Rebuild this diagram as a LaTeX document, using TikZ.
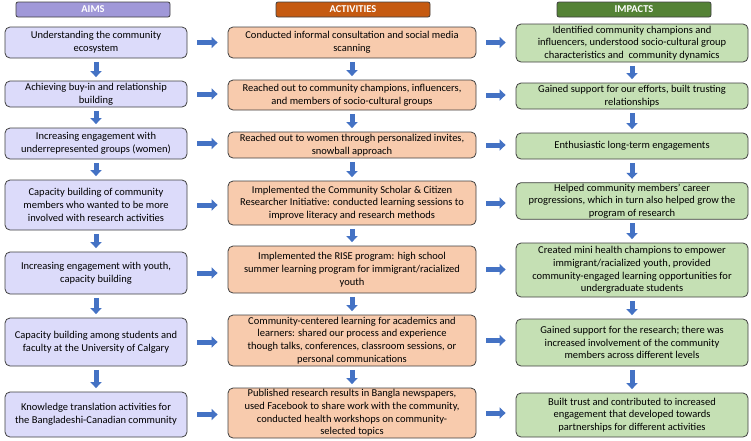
\documentclass[tikz,border=0pt]{standalone}
\usepackage{fontspec}
\setmainfont{Carlito}
\usetikzlibrary{arrows.meta}

\definecolor{aimhead}{HTML}{A098D8}
\definecolor{acthead}{HTML}{C55A11}
\definecolor{imphead}{HTML}{548235}
\definecolor{aimfill}{HTML}{DCDBFA}
\definecolor{actfill}{HTML}{F8CBAD}
\definecolor{impfill}{HTML}{C5E0B4}
\definecolor{boxline}{HTML}{404040}
\definecolor{arrowblue}{HTML}{4472C4}

\begin{document}
\begin{tikzpicture}[x=1pt, y=-1pt,
    txt/.style={font=\fontsize{10.5}{12.7}\selectfont, align=center, inner sep=1pt},
    card/.style={txt, draw=boxline, line width=0.8pt, rounded corners=5pt},
    aimbox/.style={card, fill=aimfill, minimum width=182pt},
    actbox/.style={card, fill=actfill, minimum width=248pt},
    impbox/.style={card, fill=impfill, minimum width=232pt},
    headbox/.style={draw=boxline, line width=0.8pt, rounded corners=2pt, text=white,
        font=\fontsize{10.5}{12}\selectfont\bfseries, minimum width=154pt, minimum height=15pt, inner sep=0pt},
    fatarrow/.style={draw=arrowblue, line width=5pt, -{Triangle[width=11pt,length=6pt]}}]

    % Fix the page size
    \useasboundingbox (0,0) rectangle (751,440);

    % Column headers
    \node[headbox, fill=aimhead] (hAims) at (93,9.5) {AIMS};
    \node[headbox, fill=acthead] (hAct) at (353,9.5) {ACTIVITIES};
    \node[headbox, fill=imphead] (hImp) at (634,9.5) {IMPACTS};

    % Aims column
    \node[aimbox, minimum height=31pt] (aim1) at (96,42.5) {Understanding the community\\ecosystem};
    \node[aimbox, minimum height=26pt] (aim2) at (96,94) {Achieving buy-in and relationship\\building};
    \node[aimbox, minimum height=31pt] (aim3) at (96,143.5) {Increasing engagement with\\underrepresented groups (women)};
    \node[aimbox, minimum height=50pt] (aim4) at (96,205) {Capacity building of community\\members who wanted to be more\\involved with research activities};
    \node[aimbox, minimum height=42pt] (aim5) at (96,273) {Increasing engagement with youth,\\capacity building};
    \node[aimbox, minimum height=48pt] (aim6) at (96,342) {Capacity building among students and\\faculty at the University of Calgary};
    \node[aimbox, minimum height=45pt] (aim7) at (96,414.5) {Knowledge translation activities for\\the Bangladeshi-Canadian community};

    % Activities column
    \node[actbox, minimum height=31pt] (act1) at (352,42.5) {Conducted informal consultation and social media\\scanning};
    \node[actbox, minimum height=30pt] (act2) at (352,95) {Reached out to community champions, influencers,\\and members of socio-cultural groups};
    \node[actbox, minimum height=26pt] (act3) at (352,145) {Reached out to women through personalized invites,\\snowball approach};
    \node[actbox, minimum height=44pt] (act4) at (352,203) {Implemented the Community Scholar \& Citizen\\Researcher Initiative: conducted learning sessions to\\improve literacy and research methods};
    \node[actbox, minimum height=47pt] (act5) at (352,269.5) {Implemented the RISE program: high school\\summer learning program for immigrant/racialized\\youth};
    \node[actbox, minimum height=51pt] (act6) at (352,340.5) {Community-centered learning for academics and\\learners: shared our process and experience\\though talks, conferences, classroom sessions, or\\personal communications};
    \node[actbox, minimum height=50pt] (act7) at (352,413) {Published research results in Bangla newspapers,\\used Facebook to share work with the community,\\conducted health workshops on community-\\selected topics};

    % Impacts column
    \node[impbox, minimum height=38pt] (imp1) at (632,43) {Identified community champions and\\influencers, understood socio-cultural group\\characteristics and\ \ community dynamics};
    \node[impbox, minimum height=26pt] (imp2) at (632,96) {Gained support for our efforts, built trusting\\relationships};
    \node[impbox, minimum height=26pt] (imp3) at (632,146) {Enthusiastic long-term engagements};
    \node[impbox, minimum height=36pt] (imp4) at (632,201) {Helped community members’ career\\progressions, which in turn also helped grow the\\program of research};
    \node[impbox, minimum height=54pt] (imp5) at (632,270) {Created mini health champions to empower\\immigrant/racialized youth, provided\\community-engaged learning opportunities for\\undergraduate students};
    \node[impbox, minimum height=47pt] (imp6) at (632,342.5) {Gained support for the research; there was\\increased involvement of the community\\members across different levels};
    \node[impbox, minimum height=44pt] (imp7) at (632,415) {Built trust and contributed to increased\\engagement that developed towards\\partnerships for different activities};

    % Arrows across the columns
    \foreach \i in {1,...,7} {
        \draw[fatarrow, shorten <=10pt, shorten >=10pt] (aim\i.east) -- (aim\i.east -| act\i.west);
        \draw[fatarrow, shorten <=10pt, shorten >=10pt] (act\i.east) -- (act\i.east -| imp\i.west);
    }

    % Arrows down each column
    \foreach \i [count=\j from 2] in {1,...,6} {
        \draw[fatarrow, shorten <=3.5pt, shorten >=3.5pt] (aim\i.south) -- (aim\j.north);
        \draw[fatarrow, shorten <=3.5pt, shorten >=3.5pt] (act\i.south) -- (act\j.north);
        \draw[fatarrow, shorten <=3.5pt, shorten >=3.5pt] (imp\i.south) -- (imp\j.north);
    }

\end{tikzpicture}
\end{document}
